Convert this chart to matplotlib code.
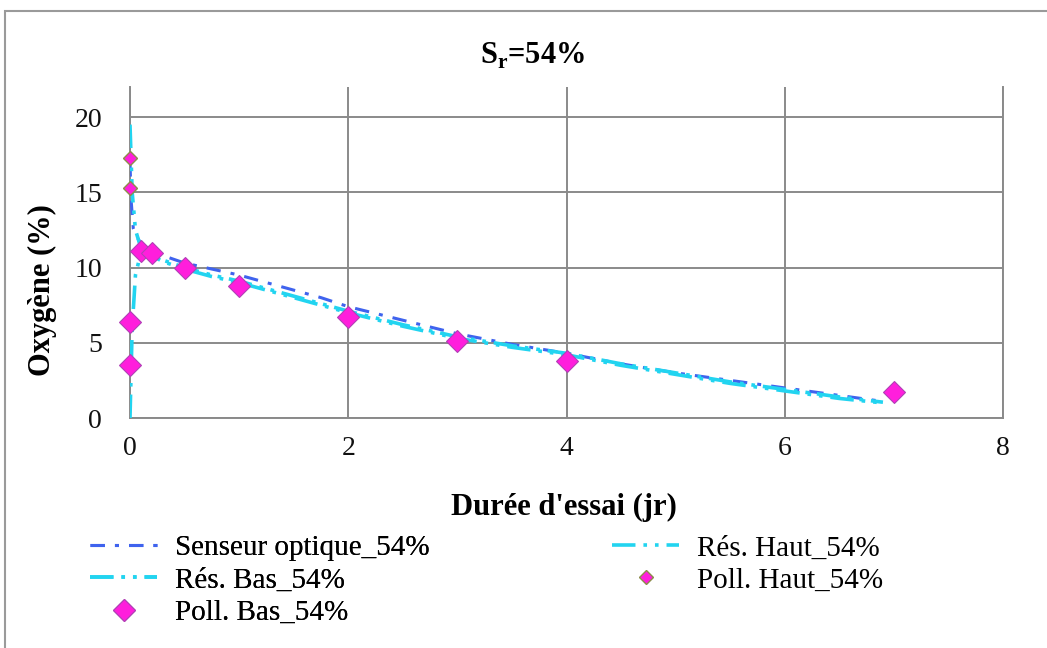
import matplotlib
matplotlib.use("Agg")
import matplotlib.pyplot as plt
from matplotlib.patches import Rectangle

# ---------------- data ----------------
title = "S$_\\mathregular{r}$=54%"
xlabel = "Durée d'essai (jr)"
ylabel = "Oxygène (%)"
xticks = [0, 2, 4, 6, 8]
yticks = [0, 5, 10, 15, 20]

t_sens = [0.0, 0.01, 0.03, 0.05, 0.1, 0.2, 0.3, 0.5, 0.75, 1.0, 1.25, 1.5, 1.75, 2.0,
          2.5, 3.0, 3.5, 4.0, 4.5, 5.0, 5.5, 6.0, 6.5, 6.9]
o2_sens = [17.0, 14.5, 12.6, 12.2, 11.6, 11.1, 10.8, 10.3, 9.9, 9.5, 9.0, 8.5, 8.0, 7.4,
           6.5, 5.6, 4.9, 4.3, 3.6, 3.0, 2.5, 2.0, 1.5, 1.1]

t_res = [0.0, 0.02, 0.05, 0.1, 0.2, 0.3, 0.5, 0.75, 1.0, 1.5, 2.0, 2.5, 3.0, 3.5,
         4.0, 4.5, 5.0, 5.5, 6.0, 6.5, 6.9]
o2_res_haut = [19.5, 15.0, 12.5, 11.3, 10.9, 10.5, 10.0, 9.5, 9.1, 8.1, 7.1, 6.2, 5.4, 4.8,
               4.3, 3.6, 3.0, 2.4, 1.9, 1.4, 1.05]
o2_res_bas = [0.0, 6.0, 9.5, 11.0, 10.8, 10.4, 9.9, 9.4, 9.0, 8.0, 7.0, 6.1, 5.3, 4.7,
              4.2, 3.5, 2.9, 2.3, 1.8, 1.3, 1.0]

t_poll_haut = [0.0, 0.0]
o2_poll_haut = [17.3, 15.3]

t_poll_bas = [0.0, 0.0, 0.1, 0.2, 0.5, 1.0, 2.0, 3.0, 4.0, 7.0]
o2_poll_bas = [3.5, 6.4, 11.1, 11.0, 10.0, 8.8, 6.7, 5.1, 3.8, 1.7]

labels = ["Senseur optique_54%", "Rés. Haut_54%", "Rés. Bas_54%",
          "Poll. Haut_54%", "Poll. Bas_54%"]

# ---------------- style ----------------
plt.rcParams['font.family'] = ['Liberation Serif', 'DejaVu Serif']
W, H = 1047, 648
fig = plt.figure(figsize=(W / 100, H / 100), dpi=100)

def fx(px):
    return px / W

def fy(py):
    return 1 - py / H

ax = fig.add_axes([fx(130), fy(418), fx(1003) - fx(130), fy(87) - fy(418)])

blue = '#3F63EE'
cyan = '#22D4F0'
mag = '#FF1EDC'
grid_c = '#8a8a8a'

ls_blue = (0, (4.7, 3.3, 1.3, 3.3))
ls_cyan = (0, (6.5, 2.2, 1.0, 2.2, 1.0, 2.2))

l1, = ax.plot(t_sens, o2_sens, color=blue, lw=2.2, linestyle=ls_blue, label=labels[0], zorder=3)
l2, = ax.plot(t_res, o2_res_haut, color=cyan, lw=2.6, linestyle=ls_cyan, label=labels[1], zorder=3)
l3, = ax.plot(t_res, o2_res_bas, color=cyan, lw=2.6, linestyle=ls_cyan, label=labels[2], zorder=3)
l4, = ax.plot(t_poll_haut, o2_poll_haut, 'D', color=mag, ms=7.5, mec='#8C8C4A', mew=1.0,
              linestyle='none', label=labels[3], zorder=5, clip_on=False)
l5, = ax.plot(t_poll_bas, o2_poll_bas, 'D', color=mag, ms=11, mec='#B040B5', mew=0.8,
              linestyle='none', label=labels[4], zorder=5, clip_on=False)

ax.set_xlim(0, 8)
ax.set_ylim(0, 22)
ax.set_xticks(xticks)
ax.set_yticks(yticks)
ax.set_xticklabels([str(v) for v in xticks])
ax.set_yticklabels([str(v) for v in yticks])
ax.grid(True, color=grid_c, lw=1.4)
ax.set_axisbelow(True)
for s in ['left', 'right', 'bottom']:
    ax.spines[s].set_color(grid_c)
    ax.spines[s].set_linewidth(1.4)
ax.spines['top'].set_visible(False)
ax.tick_params(axis='both', length=0, labelsize=20, colors='#111111')
ax.tick_params(axis='x', pad=13)
ax.tick_params(axis='y', pad=20)

fig.text(fx(533), fy(56), title, ha='center', va='center', fontsize=22, fontweight='bold')
fig.text(fx(564), fy(507), xlabel, ha='center', va='center', fontsize=22, fontweight='bold')
fig.text(fx(42), fy(290), ylabel, ha='center', va='center', fontsize=22, fontweight='bold',
         rotation=90)

# outer border
fig.add_artist(Rectangle((fx(5), -0.05), 1.2, fy(11) + 0.05, transform=fig.transFigure,
                         fill=False, edgecolor='#9a9a9a', lw=1.5, clip_on=False))

# legends (row-wise layout like Excel)
leg_kw = dict(frameon=False, fontsize=21, borderpad=0, borderaxespad=0,
              handletextpad=0.6, labelspacing=0.2, handlelength=2.3)
leg1 = fig.legend([l1, l3, l5], [labels[0], labels[2], labels[4]], loc='upper left',
                  bbox_to_anchor=(fx(90), fy(535)), **leg_kw)
fig.add_artist(leg1)
leg2 = fig.legend([l2, l4], [labels[1], labels[3]], loc='upper left',
                  bbox_to_anchor=(fx(612), fy(535)), **leg_kw)

fig.savefig("out.png", dpi=100)
